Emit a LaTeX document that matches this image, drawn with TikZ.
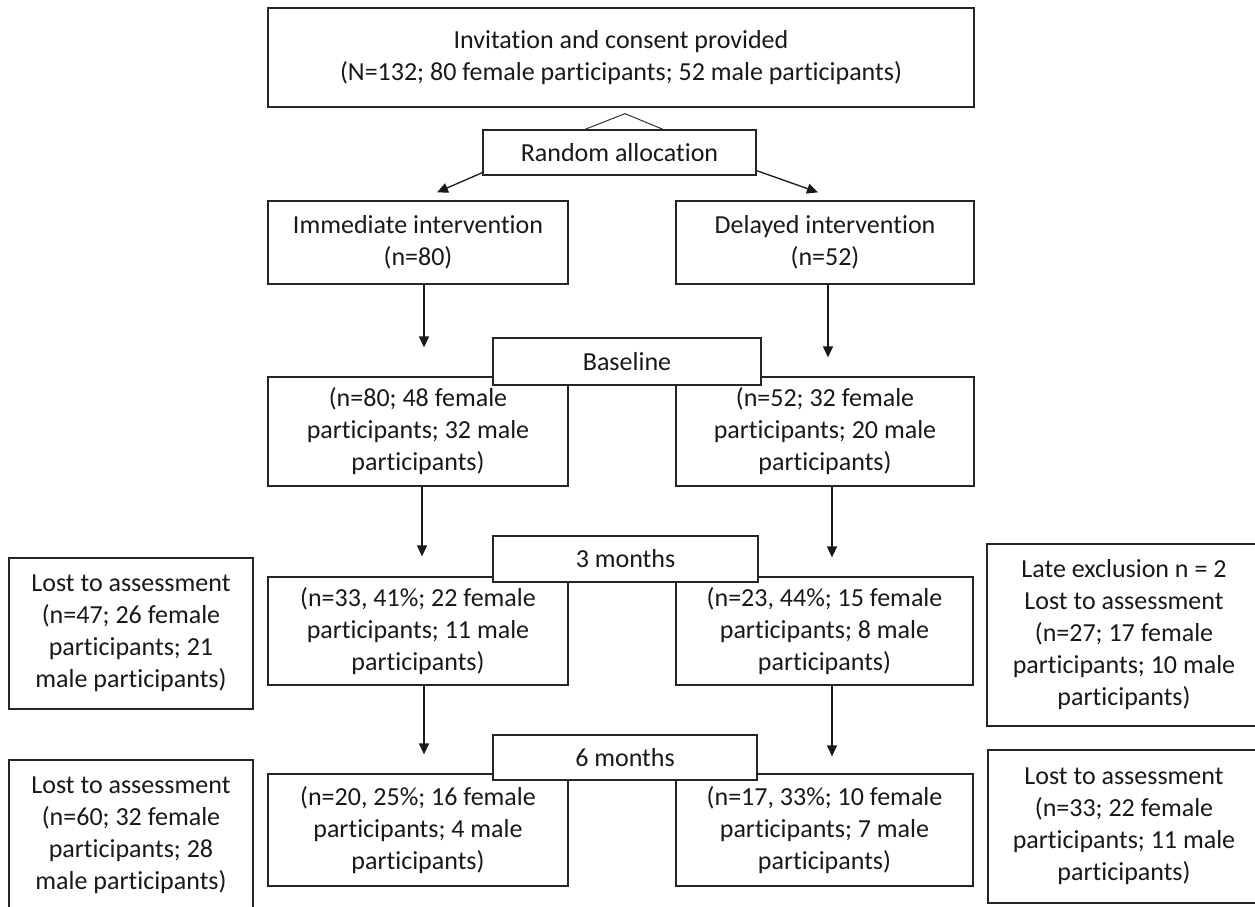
\documentclass[tikz,border=0pt]{standalone}
\usepackage{fontspec}
\setmainfont{Carlito}[Ligatures=NoCommon]
\usetikzlibrary{arrows.meta}
\begin{document}
\begin{tikzpicture}[x=1pt,y=-1pt,
  box/.style={draw=black!85, line width=1.3pt, fill=white, inner sep=0pt, align=center,
              font=\fontsize{26}{32}\selectfont, text=black!90},
  arr/.style={draw=black!90, line width=1.3pt, -{Triangle[length=11pt,width=10pt]}},
  thinline/.style={draw=black!80, line width=1pt}]
\useasboundingbox (0,0) rectangle (1255,907);
\clip (0,0) rectangle (1255,907);
% top part
\node[box, minimum width=706pt, minimum height=99pt] (top) at (621,57.5)
  {Invitation and consent provided\\(N=132; 80 female participants; 52 male participants)};
\node[box, minimum width=273pt, minimum height=45pt] (rand) at (619.5,152.5) {Random allocation};
\node[box, minimum width=300pt, minimum height=83pt] (imm) at (418,242.5) {Immediate intervention\\(n=80)};
\node[box, minimum width=298pt, minimum height=83pt] (del) at (825,242.5) {Delayed intervention\\(n=52)};
% baseline row
\node[box, minimum width=300pt, minimum height=109pt] (b1) at (418,431.5)
  {(n=80; 48 female\\participants; 32 male\\participants)};
\node[box, minimum width=298pt, minimum height=109pt] (b2) at (825,431.5)
  {(n=52; 32 female\\participants; 20 male\\participants)};
\node[box, minimum width=268pt, minimum height=47pt] (base) at (627,361.5) {Baseline};
% 3 months row
\node[box, minimum width=300pt, minimum height=108pt] (t1) at (418,631)
  {(n=33, 41\%; 22 female\\participants; 11 male\\participants)};
\node[box, minimum width=297pt, minimum height=108pt] (t2) at (824.5,631)
  {(n=23, 44\%; 15 female\\participants; 8 male\\participants)};
\node[box, minimum width=265pt, minimum height=46pt] (m3) at (625.5,559) {3 months};
\node[box, minimum width=244pt, minimum height=151pt] (L1) at (131,633.5)
  {Lost to assessment\\(n=47; 26 female\\participants; 21\\male participants)};
\node[box, minimum width=274pt, minimum height=182pt] (R1) at (1124,635)
  {Late exclusion n = 2\\Lost to assessment\\(n=27; 17 female\\participants; 10 male\\participants)};
% 6 months row
\node[box, minimum width=300pt, minimum height=112pt] (s1) at (418,830)
  {(n=20, 25\%; 16 female\\participants; 4 male\\participants)};
\node[box, minimum width=297pt, minimum height=112pt] (s2) at (824.5,830)
  {(n=17, 33\%; 10 female\\participants; 7 male\\participants)};
\node[box, minimum width=264pt, minimum height=45pt] (m6) at (625,757.5) {6 months};
\node[box, minimum width=244pt, minimum height=150pt] (L2) at (131,835)
  {Lost to assessment\\(n=60; 32 female\\participants; 28\\male participants)};
\node[box, minimum width=272pt, minimum height=153pt] (R2) at (1124,826.5)
  {Lost to assessment\\(n=33; 22 female\\participants; 11 male\\participants)};
% connectors
\coordinate (apex) at ([xshift=4pt,yshift=-6pt]top.south);
\draw[thinline] ([xshift=-34.5pt]rand.north) -- (apex) -- ([xshift=43.5pt]rand.north);
\draw[arr] ([yshift=3pt]rand.south west) -- ([xshift=19pt,yshift=8pt]imm.north);
\draw[arr] ([yshift=5pt]rand.south east) -- ([xshift=-7pt,yshift=8pt]del.north);
\draw[arr] ([xshift=6pt]imm.south) -- ([xshift=6pt,yshift=29pt]b1.north);
\draw[arr] ([xshift=3pt]del.south) -- ([xshift=3pt,yshift=19pt]b2.north);
\draw[arr] ([xshift=4pt]b1.south) -- ([xshift=4pt,yshift=20pt]t1.north);
\draw[arr] ([xshift=7pt]b2.south) -- ([xshift=7.5pt,yshift=19pt]t2.north);
\draw[arr] ([xshift=6pt]t1.south) -- ([xshift=6pt,yshift=19pt]s1.north);
\draw[arr] ([xshift=7.5pt]t2.south) -- ([xshift=7.5pt,yshift=17pt]s2.north);
\end{tikzpicture}
\end{document}
